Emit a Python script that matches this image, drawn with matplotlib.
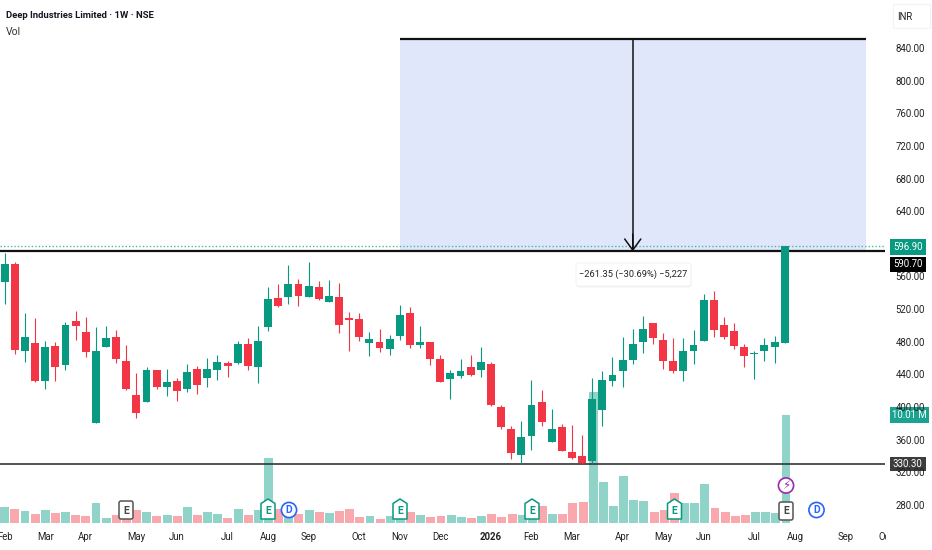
import matplotlib
matplotlib.use("Agg")
import matplotlib.pyplot as plt
from matplotlib.patches import Rectangle, Circle, Polygon, FancyBboxPatch
from matplotlib.transforms import Affine2D, Bbox, IdentityTransform, TransformedBbox

W, H = 932, 550
FONT = ['Roboto', 'DejaVu Sans']
plt.rcParams['font.family'] = FONT

opens = [553.7,575.3,468.3,478.5,432.4,475.2,451.6,505.5,492.0,380.9,473.2,485.9,456.0,414.8,405.8,445.4,424.6,432.0,422.6,446.2,
         436.0,445.4,453.6,453.6,477.3,449.5,498.5,534.1,534.5,550.8,534.5,547.5,528.3,535.3,508.7,507.5,478.9,479.7,471.5,487.5,
         514.8,475.6,479.7,459.3,434.8,438.1,448.7,445.4,452.3,400.5,372.7,340.8,364.9,406.6,357.6,375.1,344.9,340.0,333.5,396.4,
         432.4,444.2,457.7,480.2,502.6,482.2,456.0,444.6,468.3,481.4,531.6,500.6,493.2,473.6,464.6,468.3,473.2,478.9]
closes = [575.3,469.9,485.9,431.9,474.0,449.1,500.6,499.4,467.1,469.1,484.6,458.9,422.6,392.7,445.4,425.0,430.7,420.1,442.6,427.5,
          446.2,454.8,450.3,477.3,450.3,481.0,532.8,523.9,550.8,535.7,548.4,532.0,536.5,501.0,507.1,486.3,483.4,472.0,483.4,512.4,
          475.6,479.7,458.9,431.1,441.3,443.8,439.3,454.8,402.1,376.0,344.1,362.9,402.9,381.7,372.7,346.5,337.2,331.0,409.9,433.1,
          439.3,457.3,477.3,495.7,484.2,456.5,444.2,469.1,476.1,531.6,494.9,486.3,474.8,462.2,465.9,476.1,479.7,596.9]
highs = [588.4,577.4,514.9,508.7,480.6,479.3,504.7,517.3,510.0,497.7,498.9,494.4,476.1,441.3,448.7,445.4,446.2,436.0,452.4,449.9,
         460.1,464.2,456.9,480.6,484.2,498.9,547.1,550.8,573.7,556.5,577.4,554.5,556.0,551.6,516.9,514.8,491.6,495.2,487.9,524.7,
         523.0,499.3,479.7,463.8,445.4,459.3,464.2,474.0,455.6,402.0,376.8,382.5,433.1,420.9,397.2,378.8,377.6,365.7,435.2,443.8,
         461.8,486.3,495.7,511.6,502.6,490.4,484.2,484.2,494.4,538.6,542.2,510.0,502.6,477.3,469.1,484.2,487.1,597.6]
lows = [526.3,464.6,455.2,431.1,421.7,432.4,445.8,482.2,461.4,380.9,473.2,454.4,420.9,386.6,405.8,421.7,414.0,407.8,418.9,416.4,
        425.0,433.6,437.3,452.8,445.8,429.9,493.6,522.6,526.3,523.9,534.5,531.2,528.3,490.3,468.7,481.4,462.6,467.9,463.8,481.8,
        472.8,472.0,451.5,430.7,410.3,436.0,438.5,437.2,401.3,373.5,336.7,331.8,347.8,377.2,357.6,345.7,336.3,330.2,331.0,377.2,
        426.2,424.2,452.8,465.9,477.7,447.1,442.2,432.4,452.8,481.4,486.3,483.4,470.8,449.5,434.8,456.0,454.0,478.9]
volumes = [1.43,1.28,1.06,0.81,1.15,0.90,0.97,0.72,0.62,1.81,0.41,0.72,0.50,1.15,0.97,0.62,0.72,0.62,1.43,0.72,
           0.97,0.81,0.41,1.25,0.72,1.15,6.02,1.28,0.60,0.81,1.15,0.97,0.87,1.09,1.28,0.53,0.62,0.34,0.62,0.50,
           1.00,0.72,0.53,0.62,0.72,0.53,0.44,0.62,0.81,0.53,0.81,0.72,0.50,1.53,0.81,0.81,1.81,1.90,12.2,3.78,
           1.53,4.31,2.09,2.00,1.00,1.19,2.75,1.81,1.81,3.56,1.37,1.00,0.62,0.72,1.00,1.00,0.90,10.01]
month_idx = [0,4,8,13,17,22,26,30,35,39,43,48,52,56,61,65,69,74,78,83,87]
month_lbl = ['Feb','Mar','Apr','May','Jun','Jul','Aug','Sep','Oct','Nov','Dec','2026','Feb','Mar','Apr','May','Jun','Jul','Aug','Sep','Oct']
price_ticks = [280,320,360,400,440,480,520,560,640,680,720,760,800,840]

UP, DOWN = '#089981', '#F23645'
VUP, VDOWN = '#8FD3C9', '#F9A9AD'
PX_RIGHT, PX_BOTTOM = 886, 522.5
LS = 6.9

fig = plt.figure(figsize=(W/100, H/100), dpi=100, facecolor='white')
pos = [0, 1-PX_BOTTOM/H, PX_RIGHT/W, PX_BOTTOM/H]
xlim = (-4.7/10.147, (PX_RIGHT-4.7)/10.147)

axv = fig.add_axes(pos, zorder=1)
axv.set_xlim(*xlim); axv.set_ylim(0, 48.85); axv.axis('off')
ax = fig.add_axes(pos, zorder=2)
ax.patch.set_visible(False)
ax.set_xlim(*xlim); ax.set_ylim(258.5, 898.8)
for s in ax.spines.values():
    s.set_visible(False)

xs = list(range(len(opens)))
up = [c >= o for o, c in zip(opens, closes)]
cols = [UP if u else DOWN for u in up]

# target zone
ax.add_patch(Rectangle((39, 590.7), 46, 851.2-590.7, fc='#E0E7FB', ec='none', zorder=1))
ax.hlines(851.2, 39, 85, color='#111111', lw=1.6, zorder=2)
ax.hlines(596.9, xlim[0], xlim[1], color='#4DB8A8', lw=1.0, linestyles=(0,(1,1.5)), zorder=2)
ax.hlines(590.7, xlim[0], xlim[1], color='#111111', lw=1.6, zorder=2)
ax.hlines(330.3, xlim[0], xlim[1], color='#333333', lw=1.2, zorder=2)

axv.bar(xs, volumes, width=0.88, color=[VUP if u else VDOWN for u in up], linewidth=0)

ax.vlines(xs, lows, highs, colors=cols, lw=0.8, zorder=3)
ax.bar(xs, [abs(c-o) for o, c in zip(opens, closes)], bottom=[min(o, c) for o, c in zip(opens, closes)],
       width=0.78, color=cols, linewidth=0, zorder=4)

# arrow of the projection
ax.vlines(62, 590.7, 851.2, color='#111111', lw=1.1, zorder=5)
ax.annotate('', xy=(62, 590.7), xytext=(62, 612),
            arrowprops=dict(arrowstyle='->,head_length=0.8,head_width=0.58', mutation_scale=10, color='#111111',
                            lw=1.1, shrinkA=0, shrinkB=0), zorder=5)

ax.xaxis.tick_bottom()
ax.set_xticks(month_idx, month_lbl)
ax.yaxis.tick_right()
ax.set_yticks(price_ticks, [f'{p:.2f}' for p in price_ticks])
ax.tick_params(axis='x', length=0, pad=6.5, labelsize=LS, labelcolor='#222222')
ax.tick_params(axis='y', length=0, pad=7, labelsize=LS, labelcolor='#222222')
clip = TransformedBbox(Bbox([[0, 0], [PX_RIGHT, H]]), IdentityTransform())
for t in ax.get_xticklabels():
    t.set_clip_box(clip); t.set_clip_on(True)
for t, l in zip(ax.get_xticklabels(), month_lbl):
    if l == '2026':
        t.set_fontweight('bold')

# pixel space overlay
px = Affine2D().scale(1/W, -1/H).translate(0, 1) + fig.transFigure

def txt(x, y, s, **k):
    k.setdefault('ha', 'center'); k.setdefault('va', 'center')
    k.setdefault('fontsize', LS); k.setdefault('color', '#222222')
    fig.text(x, y, s, transform=px, **k)

txt(6, 16, 'Deep Industries Limited · 1W · NSE', ha='left', fontsize=6.8, fontweight='bold', color='#131722')
txt(6, 32, 'Vol', ha='left', fontsize=7.5, color='#333333')

fig.add_artist(Rectangle((893, 4), 37, 24, transform=px, fc='white', ec='#F0F3FA', lw=0.8))
txt(905, 17, 'INR')

def badge(x0, x1, y0, y1, s, fc):
    fig.add_artist(Rectangle((x0, y0), x1-x0, y1-y0, transform=px, fc=fc, ec='none', zorder=2))
    txt((x0+x1)/2, (y0+y1)/2, s, color='white', zorder=3)

badge(889.5, 926, 239, 255, '596.90', '#089981')
badge(889.5, 926, 256.5, 272, '590.70', '#000000')
badge(889.5, 929, 406.5, 422.5, '10.01 M', '#1AA391')
badge(889.5, 926, 456.5, 471, '330.30', '#3D3D3D')

# measurement label
fig.add_artist(FancyBboxPatch((576.5, 264.5), 115, 23, boxstyle='round,pad=0,rounding_size=3', transform=px,
                              fc='#F3F3F3', ec='none', zorder=2))
fig.add_artist(FancyBboxPatch((576, 263), 115, 23, boxstyle='round,pad=0,rounding_size=3', transform=px,
                              fc='white', ec='#F0F0F0', lw=0.6, zorder=2))
txt(633.5, 274.5, '−261.35 (−30.69%) −5,227', fontsize=6.7, zorder=3)

def house(cx, cy=510):
    pts = [(cx, cy-11), (cx+7, cy-6.5), (cx+7, cy+9), (cx-7, cy+9), (cx-7, cy-6.5)]
    fig.add_artist(Polygon(pts, closed=True, transform=px, fc='white', ec='#089981', lw=1.1, joinstyle='round', zorder=2))
    txt(cx, cy+1, 'E', color='#089981', fontsize=7.5, fontweight='bold', zorder=3)

def square(cx, cy):
    fig.add_artist(FancyBboxPatch((cx-7, cy-9), 14, 18, boxstyle='round,pad=0,rounding_size=2', transform=px,
                                  fc='white', ec='#555555', lw=1.1, zorder=2))
    txt(cx, cy+0.5, 'E', color='#444444', fontsize=7.5, fontweight='bold', zorder=3)

def circle(cx, cy, s, col, **k):
    fig.add_artist(Circle((cx, cy), 7.6, transform=px, fc='white', ec=col, lw=1.2, zorder=2))
    txt(cx, cy+0.3, s, color=col, zorder=3, **k)

for cx in (268, 400, 532, 674.5):
    house(cx)
square(126, 510)
square(786, 511)
circle(289, 510, 'D', '#2962FF', fontsize=7.5, fontweight='bold')
circle(816.5, 510, 'D', '#2962FF', fontsize=7.5, fontweight='bold')
circle(786, 485.5, '⚡', '#9C27B0', fontsize=8.5, family='DejaVu Sans')

fig.savefig('out.png', dpi=100)
